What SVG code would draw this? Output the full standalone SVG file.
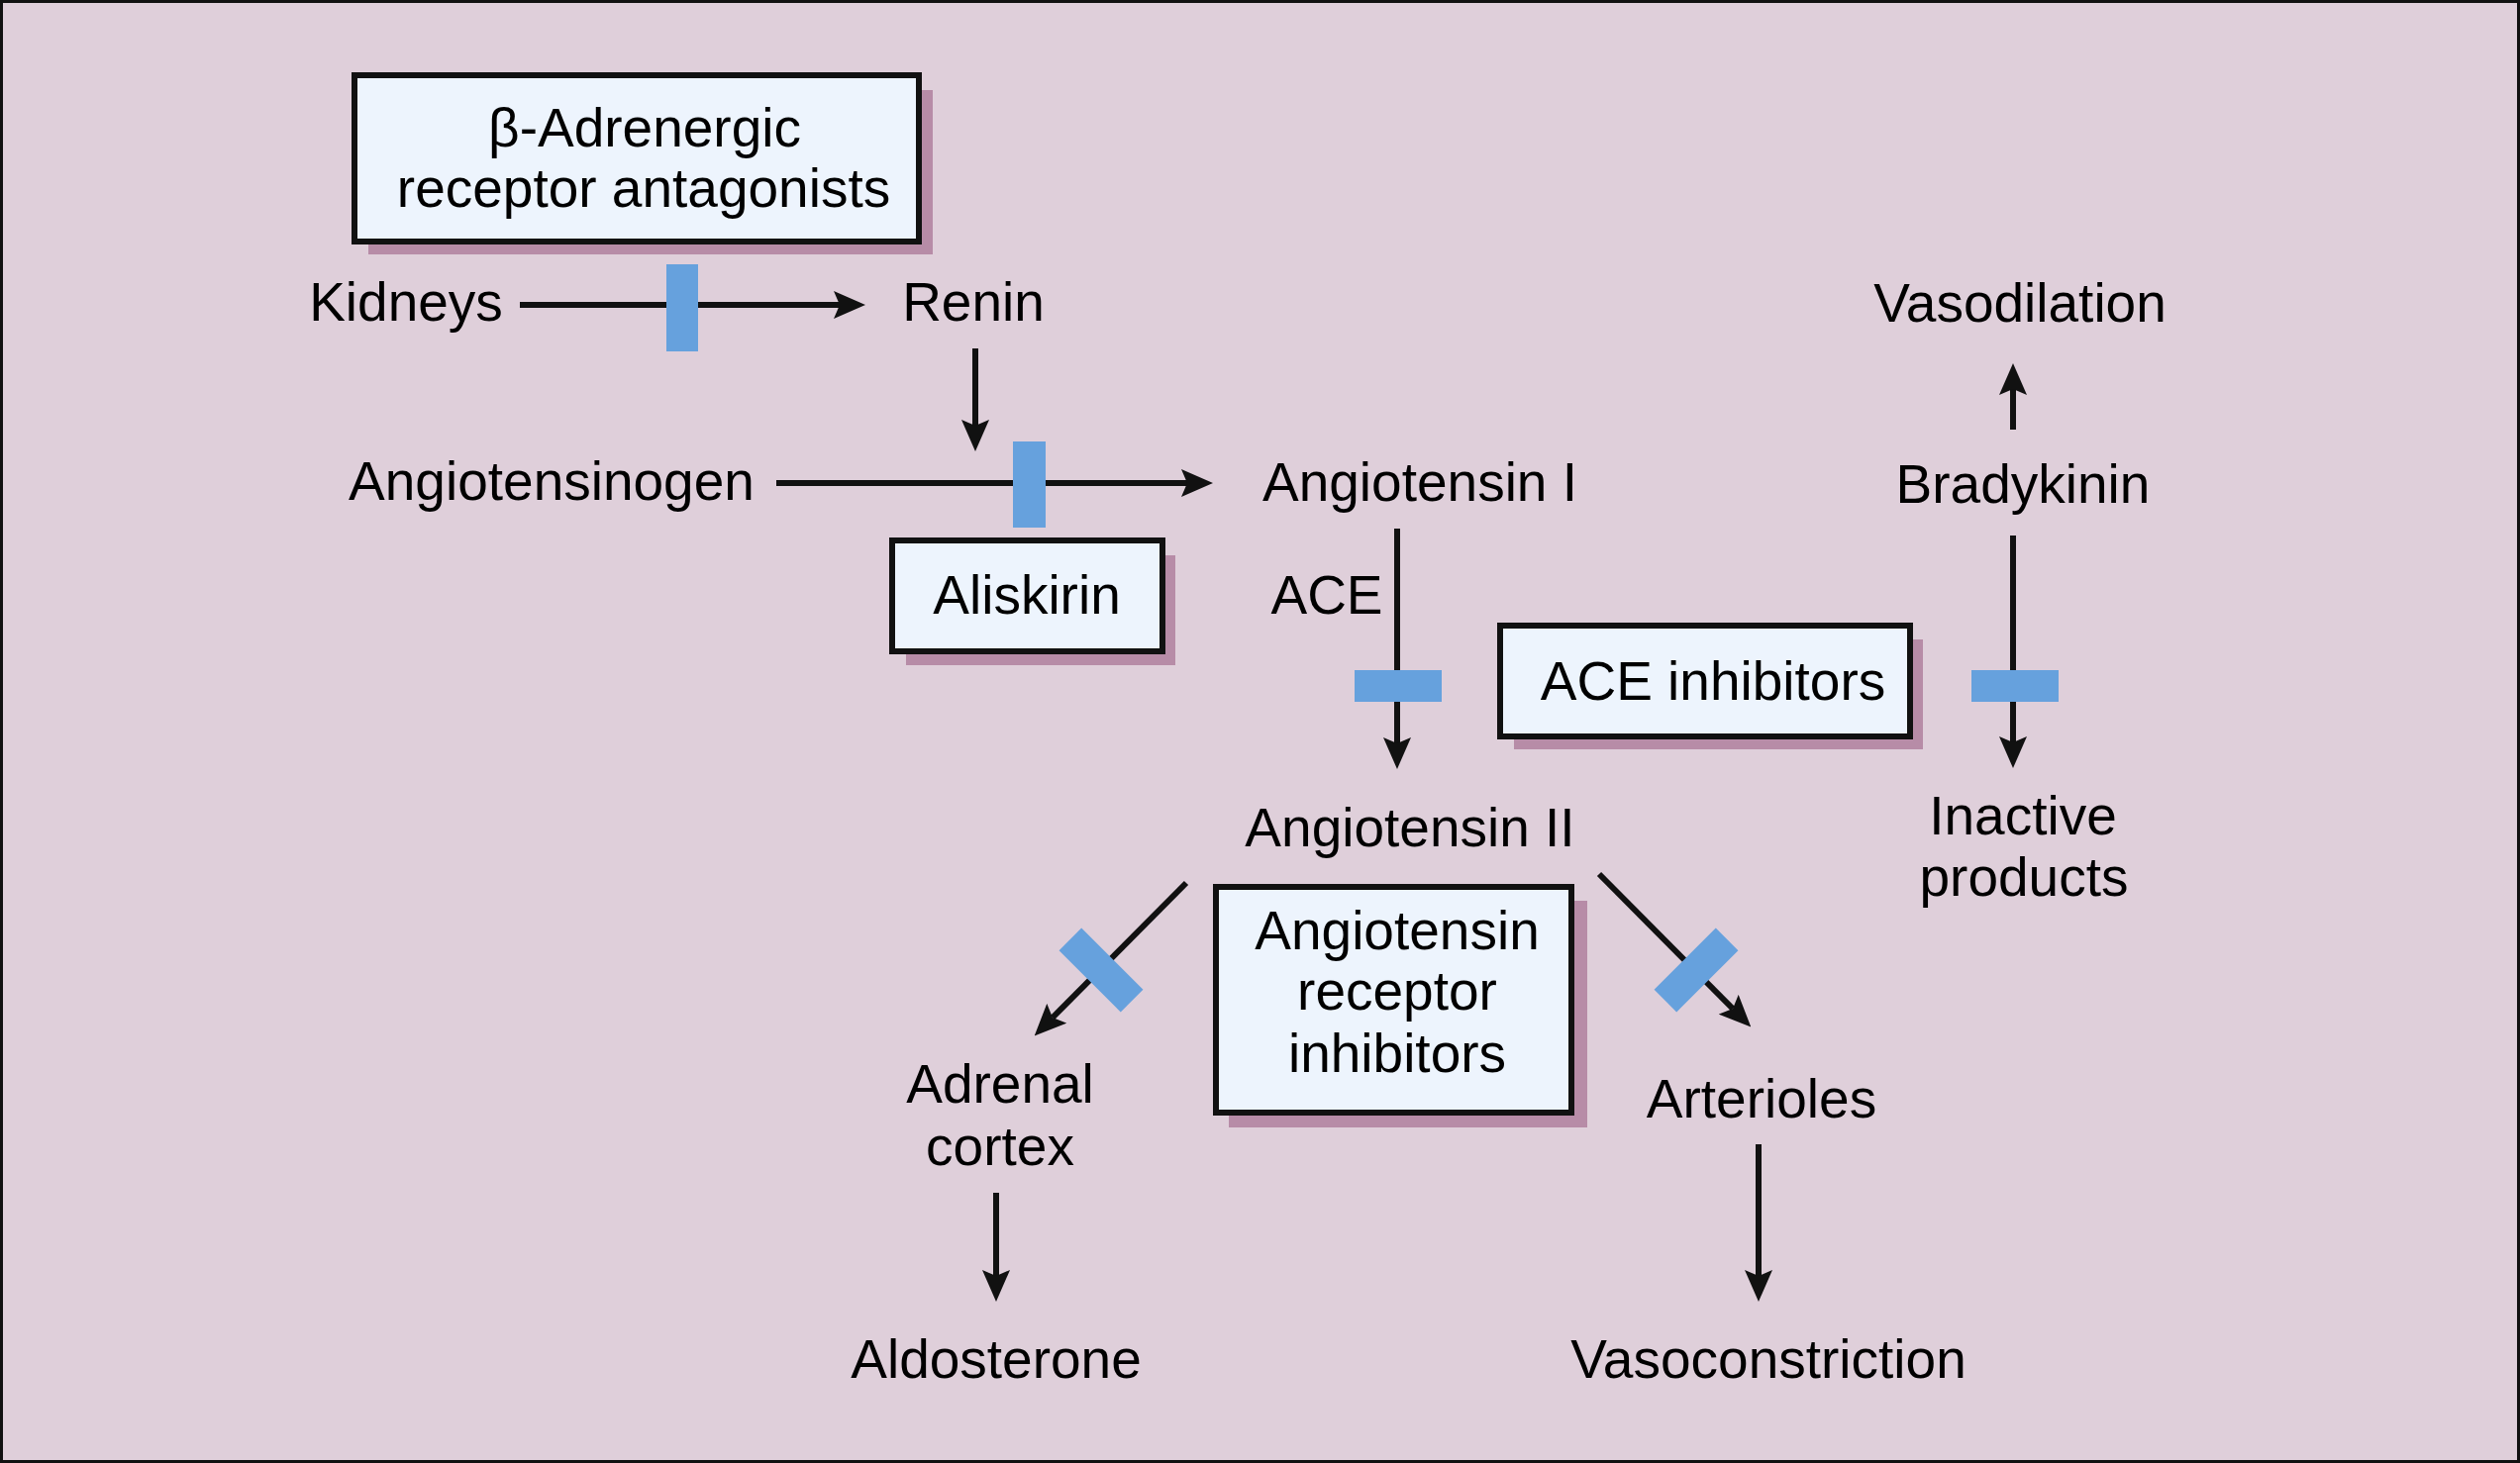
<svg xmlns="http://www.w3.org/2000/svg" width="2545" height="1478" viewBox="0 0 2545 1478">
<defs>
<style>
.bg{fill:#dfcfda;stroke:#111;stroke-width:3}
.box{fill:#edf4fd;stroke:#111;stroke-width:6}
.sh{fill:#b78ca7}
.t{font-family:"Liberation Sans",Arial,Helvetica,sans-serif;font-size:55px;fill:#000;text-anchor:middle}
.ln{stroke:#111;stroke-width:6;fill:none}
.blk{fill:#66a1dd}
</style>
<marker id="ah" viewBox="0 0 32 28" refX="6" refY="14" markerWidth="32" markerHeight="28" markerUnits="userSpaceOnUse" orient="auto">
<path d="M0,0 L32,14 L0,28 L6,14 z" fill="#111"/>
</marker>
</defs>
<rect class="bg" x="1.5" y="1.5" width="2542" height="1475"/>

<g id="connectors">
<line class="ln" x1="525" y1="308" x2="848" y2="308" marker-end="url(#ah)"/>
<line class="ln" x1="985" y1="352" x2="985" y2="430" marker-end="url(#ah)"/>
<line class="ln" x1="784" y1="488" x2="1199" y2="488" marker-end="url(#ah)"/>
<line class="ln" x1="1411" y1="534" x2="1411" y2="751" marker-end="url(#ah)"/>
<line class="ln" x1="2033" y1="434" x2="2033" y2="393" marker-end="url(#ah)"/>
<line class="ln" x1="2033" y1="541" x2="2033" y2="750" marker-end="url(#ah)"/>
<line class="ln" x1="1198" y1="892" x2="1063" y2="1028" marker-end="url(#ah)"/>
<line class="ln" x1="1615" y1="883" x2="1750" y2="1019" marker-end="url(#ah)"/>
<line class="ln" x1="1006" y1="1205" x2="1006" y2="1289" marker-end="url(#ah)"/>
<line class="ln" x1="1776" y1="1156" x2="1776" y2="1289" marker-end="url(#ah)"/>
</g>

<g id="blockers">
<rect class="blk" x="673" y="267" width="32" height="88"/>
<rect class="blk" x="1023" y="446" width="33" height="87"/>
<rect class="blk" x="1368" y="677" width="88" height="32"/>
<rect class="blk" x="1991" y="677" width="88" height="32"/>
<rect class="blk" x="-44" y="-16" width="88" height="32" transform="translate(1112,980) rotate(45)"/>
<rect class="blk" x="-44" y="-16" width="88" height="32" transform="translate(1713,980) rotate(-45)"/>
</g>

<g id="beta-blockers">
<rect class="sh" x="372" y="91" width="570" height="166"/>
<rect class="box" x="358" y="76" width="570" height="168"/>
<text class="t" x="651" y="148">β-Adrenergic</text>
<text class="t" x="650" y="209">receptor antagonists</text>
</g>

<g id="aliskirin">
<rect class="sh" x="915" y="561" width="272" height="111"/>
<rect class="box" x="901" y="546" width="273" height="112"/>
<text class="t" x="1037" y="620">Aliskirin</text>
</g>

<g id="ace-inhibitors">
<rect class="sh" x="1529" y="646" width="413" height="111"/>
<rect class="box" x="1515" y="632" width="414" height="112"/>
<text class="t" x="1730" y="707">ACE inhibitors</text>
</g>

<g id="arb">
<rect class="sh" x="1241" y="910" width="362" height="229"/>
<rect class="box" x="1228" y="896" width="359" height="228"/>
<text class="t" x="1411" y="959">Angiotensin</text>
<text class="t" x="1411" y="1020">receptor</text>
<text class="t" x="1411" y="1083">inhibitors</text>
</g>

<g id="kidneys"><text class="t" x="410" y="324">Kidneys</text></g>
<g id="renin"><text class="t" x="983" y="324">Renin</text></g>
<g id="angiotensinogen"><text class="t" x="557" y="505">Angiotensinogen</text></g>
<g id="angiotensin-i"><text class="t" x="1434" y="506">Angiotensin I</text></g>
<g id="ace"><text class="t" x="1340" y="620">ACE</text></g>
<g id="angiotensin-ii"><text class="t" x="1424" y="855">Angiotensin II</text></g>
<g id="adrenal-cortex"><text class="t" x="1010" y="1114">Adrenal</text><text class="t" x="1010" y="1177">cortex</text></g>
<g id="aldosterone"><text class="t" x="1006" y="1392">Aldosterone</text></g>
<g id="arterioles"><text class="t" x="1779" y="1129">Arterioles</text></g>
<g id="vasoconstriction"><text class="t" x="1786" y="1392">Vasoconstriction</text></g>
<g id="vasodilation"><text class="t" x="2040" y="325">Vasodilation</text></g>
<g id="bradykinin"><text class="t" x="2043" y="508">Bradykinin</text></g>
<g id="inactive-products"><text class="t" x="2043" y="843">Inactive</text><text class="t" x="2044" y="905">products</text></g>
</svg>
